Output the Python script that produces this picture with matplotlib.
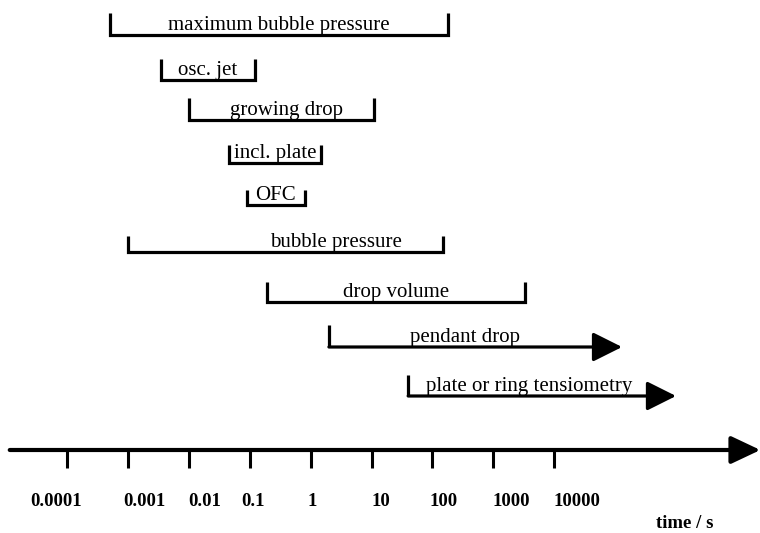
import numpy as np
import matplotlib
matplotlib.use("Agg")
import matplotlib.pyplot as plt
from matplotlib.transforms import offset_copy

plt.rcParams['font.family'] = ['Liberation Serif', 'DejaVu Serif']

# time windows (s) covered by each surface tension method
methods = ['maximum bubble pressure', 'osc. jet', 'growing drop', 'incl. plate', 'OFC',
           'bubble pressure', 'drop volume', 'pendant drop', 'plate or ring tensiometry']
t_min = [5e-4, 3.5e-3, 1e-2, 4.5e-2, 9e-2, 1e-3, 0.19, 2, 40]
t_max = [180, 0.12, 11, 1.5, 0.8, 150, 3300, 1.3e5, 1e6]
open_ended = [False, False, False, False, False, False, False, True, True]

tick_values = [1e-4, 1e-3, 1e-2, 1e-1, 1, 10, 100, 1000, 10000]
tick_labels = ['0.0001', '0.001', '0.01', '0.1', '1', '10', '100', '1000', '10000']

# layout (pixel units, y grows downwards)
row_y = [35, 80, 120, 163, 205, 252, 302, 347, 396]
cap_h = [22, 21, 22, 18, 15, 16, 20, 22, 21]
label_shift = [0, 0, 5, 0, 0, 50, 0, -10, -13]
tick_nudge = [-37, -5, -1, -8, -3, 0, -3, -1, -1]
axis_y = 450

fig = plt.figure(figsize=(7.6, 5.33), dpi=100)
ax = fig.add_axes([0, 0, 1, 1])
ax.set_xscale('log')
ax.set_xlim(10 ** -5.1, 10 ** 7.379)
ax.set_ylim(533, 0)
ax.axis('off')

lw = 2.3
for name, lo, hi, opn, y, h, sh in zip(methods, t_min, t_max, open_ended, row_y, cap_h, label_shift):
    if opn:
        ax.plot([lo, lo], [y - h, y], color='k', lw=lw, solid_capstyle='butt')
        ax.annotate('', xy=(hi, y), xytext=(lo, y),
                    arrowprops=dict(arrowstyle='-|>,head_length=1.8,head_width=0.9',
                                    mutation_scale=10, lw=lw, color='k',
                                    shrinkA=0, shrinkB=0))
    else:
        ax.plot([lo, lo, hi, hi], [y - h, y, y, y - h], color='k', lw=lw,
                solid_joinstyle='miter', solid_capstyle='butt')
    xc = np.sqrt(lo * hi)
    tr = offset_copy(ax.transData, fig=fig, x=sh, y=0, units='dots')
    ax.text(xc, y - 5, name, transform=tr, ha='center', va='baseline', fontsize=15)

# time axis
ax.annotate('', xy=(10 ** 7.385, axis_y), xytext=(10 ** -4.94, axis_y),
            arrowprops=dict(arrowstyle='-|>,head_length=1.8,head_width=0.85',
                            mutation_scale=10, lw=3, color='k',
                            shrinkA=0, shrinkB=0))
for v, lab, dx in zip(tick_values, tick_labels, tick_nudge):
    ax.plot([v, v], [axis_y, axis_y + 18], color='k', lw=2.2, solid_capstyle='butt')
    tr = offset_copy(ax.transData, fig=fig, x=dx, y=0, units='dots')
    ax.text(v, 502, lab, transform=tr, ha='left', va='center', fontsize=13.5,
            fontweight='bold')

ax.text(10 ** (-4 + (685 - 67) / 60.9), 524, 'time / s', ha='center', va='center',
        fontsize=13.5, fontweight='bold')

fig.savefig('out.png', dpi=100)
